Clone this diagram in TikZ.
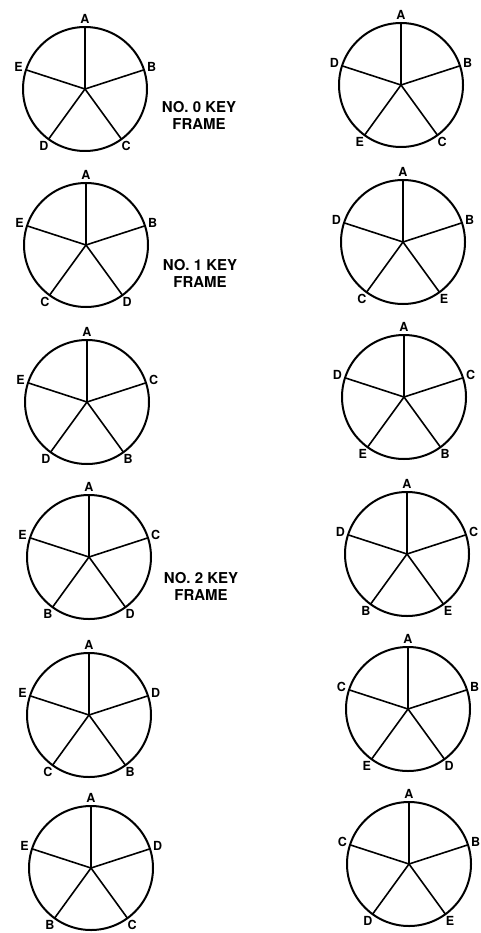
\documentclass[tikz,border=0pt]{standalone}
\usepackage{fontspec}
\setmainfont{TeX Gyre Heros}
\usetikzlibrary{calc}
\begin{document}
\begin{tikzpicture}[x=1pt,y=1pt,
    wheel/.style={line width=2pt},
    spoke/.style={line width=1.6pt},
    letter/.style={font=\fontsize{12.5}{13}\selectfont\bfseries,inner sep=0pt},
    keyname/.style={font=\fontsize{15}{17}\selectfont\bfseries,align=center}]
    \useasboundingbox (0,0) rectangle (480,-933);
    % left column and right column of wheels
    \foreach \cx/\cy/\n/\p/\q/\r/\s/\t in {
        85/89/la/A/B/C/D/E, 401/85/ra/A/B/C/E/D,
        86/245/lb/A/B/D/C/E, 403/242/rb/A/B/E/C/D,
        87/402/lc/A/C/B/D/E, 404/397/rc/A/C/B/E/D,
        89/557/ld/A/C/D/B/E, 407/554/rd/A/C/E/B/D,
        89/715/le/A/D/B/C/E, 408/709/re/A/B/D/E/C,
        91/868/lf/A/D/C/B/E, 409/864/rf/A/B/E/D/C}{
        \coordinate (\n) at (\cx,-\cy);
        \draw[wheel] (\n) circle (62);
        \foreach \a/\lab in {90/\p,18/\q,-54/\r,-126/\s,162/\t}{
            \coordinate (\n-\lab) at ($(\n)+(\a:62)$);
            \draw[spoke] (\n) -- (\n-\lab);
            \node[letter] (\n-t\lab) at ($(\n)+(\a:70)$) {\lab};
        }
    }
    \node[keyname] (key0) at (199,-115) {NO. 0 KEY\\FRAME};
    \node[keyname] (key1) at (200,-273) {NO. 1 KEY\\FRAME};
    \node[keyname] (key2) at (201,-586) {NO. 2 KEY\\FRAME};
\end{tikzpicture}
\end{document}
